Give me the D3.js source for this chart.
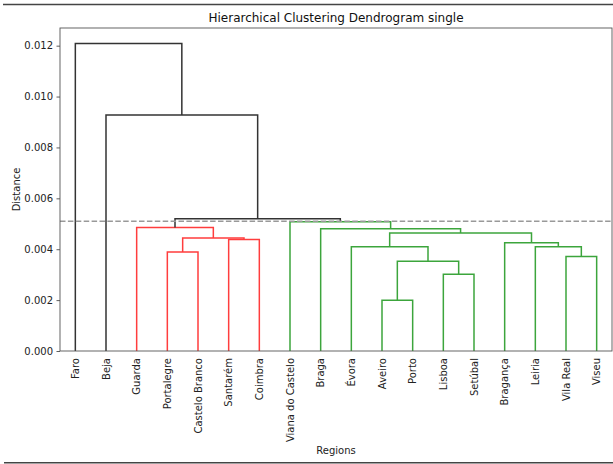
<!DOCTYPE html>
<html>
<head>
<meta charset="utf-8">
<script src="https://cdn.jsdelivr.net/npm/d3@7/dist/d3.min.js"></script>
<style>
  html, body { margin: 0; padding: 0; background: #fff; }
  svg { display: block; font-family: "DejaVu Sans", sans-serif; }
</style>
</head>
<body>
<svg id="chart" width="613" height="464"></svg>
<script>
// Leaves in dendrogram order
const regions = ["Faro", "Beja", "Guarda", "Portalegre", "Castelo Branco", "Santarém",
  "Coimbra", "Viana do Castelo", "Braga", "Évora", "Aveiro", "Porto", "Lisboa",
  "Setúbal", "Bragança", "Leiria", "Vila Real", "Viseu"];

// Single-linkage merges: [left id, right id]; ids >= regions.length are earlier merges
const mergePairs = [
  [10, 11], [12, 13], [18, 19], [16, 17], [3, 4], [9, 20], [15, 21], [14, 24],
  [5, 6], [22, 26], [23, 25], [8, 28], [2, 27], [7, 29], [30, 31], [1, 32], [0, 33]
];
const mergeHeights = [
  0.00199, 0.00302, 0.00353, 0.00371, 0.00389, 0.00410, 0.00410, 0.00425,
  0.00438, 0.00444, 0.00464, 0.00480, 0.00485, 0.00508, 0.00520, 0.00928, 0.01209
];

const threshold = 0.0051;
const yTicks = [0, 0.002, 0.004, 0.006, 0.008, 0.010, 0.012];
const clusterColors = ["#ff3d3d", "#3ca53c"];
const aboveColor = "#333333";

const svg = d3.select("#chart");
const margin = { left: 60, right: 1, top: 28, bottom: 113 };
const W = 613, H = 464;
const x0 = margin.left, x1 = W - margin.right, y0 = H - margin.bottom, y1 = margin.top;

const n = regions.length;
const maxH = d3.max(mergeHeights);
const x = d3.scaleLinear().domain([0, n * 10]).range([x0, x1]);
const y = d3.scaleLinear().domain([0, maxH * 1.05]).range([y0, y1]);

// Build node positions
const nodes = regions.map((r, i) => ({ pos: i * 10 + 5, h: 0, leaf: true }));
mergePairs.forEach(([a, b], i) => {
  nodes.push({ pos: (nodes[a].pos + nodes[b].pos) / 2, h: mergeHeights[i], a, b, leaf: false });
});

// Assign colours: each top-most sub-threshold cluster gets the next palette colour
let colorIdx = 0;
function paint(id, color) {
  const nd = nodes[id];
  if (nd.leaf) return;
  if (color == null && nd.h < threshold) {
    // a single leaf branching off directly is not a coloured cluster
    color = clusterColors[colorIdx++ % clusterColors.length];
  }
  nd.color = color == null ? aboveColor : color;
  paint(nd.a, color);
  paint(nd.b, color);
}
paint(nodes.length - 1, null);

// Frame lines of the figure
svg.append("line").attr("x1", 3).attr("x2", W).attr("y1", 4.5).attr("y2", 4.5)
  .attr("stroke", "#444").attr("stroke-width", 1.5);
svg.append("line").attr("x1", 4).attr("x2", W).attr("y1", 462.8).attr("y2", 462.8)
  .attr("stroke", "#444").attr("stroke-width", 1.5);

// Links
const g = svg.append("g");
nodes.forEach(nd => {
  if (nd.leaf) return;
  const A = nodes[nd.a], B = nodes[nd.b];
  const path = `M${x(A.pos)},${y(A.h)}V${y(nd.h)}H${x(B.pos)}V${y(B.h)}`;
  g.append("path").attr("d", path).attr("fill", "none")
    .attr("stroke", nd.color).attr("stroke-width", 1.5);
});

// Threshold line
svg.append("line")
  .attr("x1", x0).attr("x2", x1)
  .attr("y1", y(threshold)).attr("y2", y(threshold))
  .attr("stroke", "#999").attr("stroke-width", 1.5)
  .attr("stroke-dasharray", "5.5,2.4");

// Y axis
const yAxis = d3.axisLeft(y).tickValues(yTicks).tickFormat(d3.format(".3f")).tickSize(3.5).tickPadding(3.5);
const ga = svg.append("g").attr("transform", `translate(${x0},0)`).call(yAxis);
ga.select(".domain").remove();
ga.selectAll("text").attr("font-size", 10).attr("fill", "#222").attr("font-family", "DejaVu Sans");
ga.selectAll("line").attr("stroke", "#333").attr("stroke-width", 0.8);

// Leaf labels
svg.append("g").selectAll("text").data(regions).join("text")
  .attr("transform", (d, i) => `translate(${x(i * 10 + 5)},${y0 + 7}) rotate(-90)`)
  .attr("text-anchor", "end").attr("dy", "0.35em")
  .attr("font-size", 10).attr("fill", "#222")
  .text(d => d);

// Spines
svg.append("rect").attr("x", x0).attr("y", y1).attr("width", x1 - x0).attr("height", y0 - y1)
  .attr("fill", "none").attr("stroke", "#555").attr("stroke-width", 0.9);

// Titles
svg.append("text").attr("x", (x0 + x1) / 2).attr("y", 21.5).attr("text-anchor", "middle")
  .attr("font-size", 12).attr("fill", "#111").text("Hierarchical Clustering Dendrogram single");
svg.append("text").attr("x", (x0 + x1) / 2).attr("y", 454).attr("text-anchor", "middle")
  .attr("font-size", 10).attr("fill", "#222").text("Regions");
svg.append("text").attr("transform", `translate(19.5,${(y0 + y1) / 2}) rotate(-90)`)
  .attr("text-anchor", "middle").attr("font-size", 10).attr("fill", "#222").text("Distance");
</script>
</body>
</html>
